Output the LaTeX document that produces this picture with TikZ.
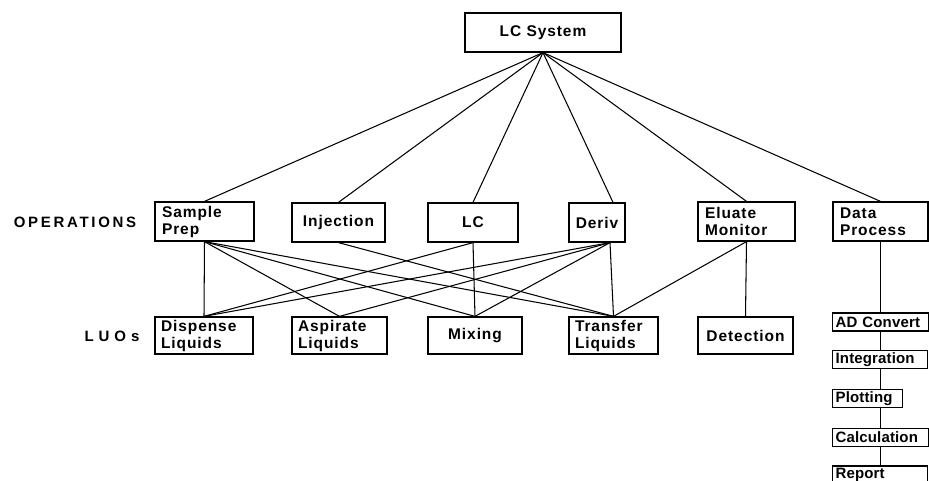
\documentclass[tikz,border=0pt]{standalone}
\usepackage{fontspec}
\setmainfont[LetterSpace=6]{Liberation Sans}

\begin{document}
\begin{tikzpicture}
[x=1pt,y=-1pt,
  lineDecorate/.style={-,line width=1.05pt},%
  boxDecorate/.style={draw,line width=1.25pt,inner sep=0pt,font=\bfseries\fontsize{15.5}{17}\selectfont},%
  leftDecorate/.style={boxDecorate,align=left},%
  centerDecorate/.style={boxDecorate,align=center},%
  chainDecorate/.style={boxDecorate,align=left,anchor=west,minimum height=18pt,
    font={\bfseries\fontsize{15}{17}\selectfont\addfontfeatures{LetterSpace=1}}},%
  rowDecorate/.style={font={\bfseries\fontsize{15}{17}\selectfont\addfontfeatures{LetterSpace=#1}}}]
\useasboundingbox (0,0) rectangle (929,481);
%% top node
\node (sys) at (543,32.5) [centerDecorate,minimum width=156pt,minimum height=39pt] {LC System};
%% row labels
\node (oplabel) at (75,222) [rowDecorate=18] {OPERATIONS};
\node (luolabel) at (112,336) [rowDecorate=33] {LUOs};
%% operations
\foreach \nodename/\x/\w/\txt in {sprep/204.5/99/{Sample\\Prep}, eluate/746.5/97/{Eluate\\Monitor}, data/880.5/95/{Data\\Process}}
{
  \pgfmathsetmacro{\tw}{\w-14}
  \node (\nodename) at (\x,221.5) [leftDecorate,minimum width=\w pt,minimum height=39pt,text width=\tw pt] {\txt};
}
\foreach \nodename/\x/\w/\txt in {inj/338.5/93/Injection, lc/473/90/LC, deriv/597/56/Deriv}
{
  \node (\nodename) at (\x,222.5) [centerDecorate,minimum width=\w pt,minimum height=39pt] {\txt};
}
%% LUOs
\foreach \nodename/\x/\w/\txt in {disp/204/98/{Dispense\\Liquids}, asp/339.5/95/{Aspirate\\Liquids}, trans/613.5/89/{Transfer\\Liquids}}
{
  \pgfmathsetmacro{\tw}{\w-12}
  \node (\nodename) at (\x,335.5) [leftDecorate,minimum width=\w pt,minimum height=37pt,text width=\tw pt] {\txt};
}
\foreach \nodename/\x/\w/\txt in {mix/475/94/Mixing, det/745.5/95/Detection}
{
  \node (\nodename) at (\x,335.5) [centerDecorate,minimum width=\w pt,minimum height=37pt] {\txt};
}
%% data processing chain
\foreach \nodename/\y/\w/\txt in {ad/322/96/{AD Convert}, integ/359.5/95/Integration, plot/398.5/70/Plotting, calc/437.5/96/Calculation, report/475/95/Report}
{
  \pgfmathsetmacro{\tw}{\w-6}
  \node (\nodename) at (832,\y) [chainDecorate,minimum width=\w pt,text width=\tw pt] {\txt};
}
%% edges or lines
\foreach \op in {sprep,inj,lc,eluate,data}
  \draw[lineDecorate] (sys.south) -- (\op.north);
\draw[lineDecorate] (sys.south) -- ([xshift=16pt]deriv.north);
\foreach \luo in {disp,asp,mix,trans}
  \draw[lineDecorate] (sprep.south) -- (\luo.north);
\draw[lineDecorate] (inj.south) -- (trans.north);
\foreach \luo in {disp,mix}
  \draw[lineDecorate] (lc.south) -- (\luo.north);
\foreach \luo in {disp,asp,mix,trans}
  \draw[lineDecorate] ([xshift=13pt]deriv.south) -- (\luo.north);
\foreach \luo in {trans,det}
  \draw[lineDecorate] (eluate.south) -- (\luo.north);
%% chain lines
\draw[lineDecorate] (data.south) -- (data.south |- ad.north);
\foreach \a/\b in {ad/integ, integ/plot, plot/calc, calc/report}
  \draw[lineDecorate] (data.south |- \a.south) -- (data.south |- \b.north);
\end{tikzpicture}
\end{document}
